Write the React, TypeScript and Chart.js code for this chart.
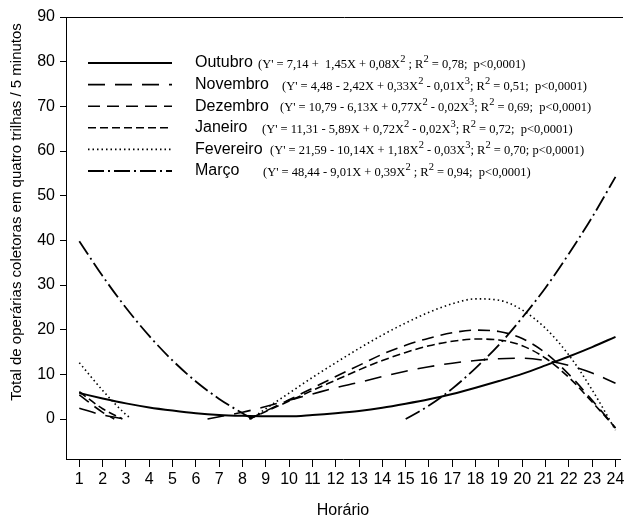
import React, { useEffect, useRef } from 'react';
import { Chart, registerables } from 'chart.js';

Chart.register(...registerables);

// ---------- data ----------
const hourTicks = [1, 2, 3, 4, 5, 6, 7, 8, 9, 10, 11, 12, 13, 14, 15, 16, 17, 18, 19, 20, 21, 22, 23, 24];
const yTicks = [0, 10, 20, 30, 40, 50, 60, 70, 80, 90];

const xTitle = 'Horário';
const yTitle = 'Total de operárias coletoras em quatro trilhas / 5 minutos';

const seriesNames = ['Outubro', 'Novembro', 'Dezembro', 'Janeiro', 'Fevereiro', 'Março'];
const seriesEquations = [
  "(Y' = 7,14 +  1,45X + 0,08X^2 ; R^2 = 0,78;  p<0,0001)",
  "(Y' = 4,48 - 2,42X + 0,33X^2 - 0,01X^3; R^2 = 0,51;  p<0,0001)",
  "(Y' = 10,79 - 6,13X + 0,77X^2 - 0,02X^3; R^2 = 0,69;  p<0,0001)",
  "(Y' = 11,31 - 5,89X + 0,72X^2 - 0,02X^3; R^2 = 0,72;  p<0,0001)",
  "(Y' = 21,59 - 10,14X + 1,18X^2 - 0,03X^3; R^2 = 0,70; p<0,0001)",
  "(Y' = 48,44 - 9,01X + 0,39X^2 ; R^2 = 0,94;  p<0,0001)",
];

// Outubro (solid)
const outX = [1, 2, 3, 4, 5, 6, 7, 8, 9, 10, 11, 12, 13, 14, 15, 16, 17, 18, 19, 20, 21, 22, 23, 24];
const outY = [5.8, 4.6, 3.5, 2.6, 1.9, 1.3, 0.9, 0.7, 0.6, 0.6, 0.9, 1.3, 1.8, 2.5, 3.4, 4.4, 5.6, 7.0, 8.5, 10.1, 12.0, 14.0, 16.1, 18.4];

// Novembro (long dash)
const novX = [1, 2, 2.95, 4, 6.5, 7, 8, 9, 10, 11, 12, 13, 14, 15, 16, 17, 18, 19, 20, 21, 22, 23, 24];
const novY = [2.4, 0.9, 0, null, 0, 0.5, 1.5, 2.8, 4.2, 5.6, 7.0, 8.2, 9.5, 10.7, 11.7, 12.5, 13.1, 13.5, 13.6, 13.1, 12.0, 10.3, 8.0];

// Dezembro (medium dash)
const dezX = [1, 2, 2.5, 5, 8.3, 9, 10, 11, 12, 13, 14, 15, 16, 17, 18, 19, 20, 21, 22, 23, 24];
const dezY = [5.4, 1.5, 0, null, 0, 1.8, 4.3, 6.9, 9.5, 12.0, 14.5, 16.5, 18.1, 19.3, 19.9, 19.6, 18.0, 14.8, 10.0, 4.2, -2.0];

// Janeiro (short dash)
const janX = [1, 2, 2.85, 5, 8.3, 9, 10, 11, 12, 13, 14, 15, 16, 17, 18, 19, 20, 21, 22, 23, 24];
const janY = [6.1, 2.3, 0, null, 0, 1.7, 4.0, 6.4, 8.7, 11.0, 13.1, 14.9, 16.4, 17.4, 17.9, 17.7, 16.4, 13.6, 9.3, 3.8, -2.0];

// Fevereiro (dotted)
const fevX = [1, 2, 3, 3.2, 5, 8.35, 9, 10, 11, 12, 13, 14, 15, 16, 17, 18, 19, 20, 21, 22, 23, 24];
const fevY = [12.6, 6.4, 1.0, 0.2, null, 0, 2.3, 5.8, 9.3, 12.6, 15.8, 18.8, 21.5, 23.9, 25.8, 26.9, 26.6, 24.4, 20.3, 14.3, 6.5, -2.5];

// Março (dash-dot)
const marX = [1, 2, 3, 4, 5, 6, 7, 8, 8.45, 12, 15, 16, 17, 18, 19, 20, 21, 22, 23, 24];
const marY = [39.8, 32.0, 24.9, 18.6, 13.1, 8.4, 4.5, 1.3, 0, null, 0, 3.0, 6.8, 11.4, 16.6, 22.7, 29.4, 37.0, 45.2, 54.2];

const seriesX = [outX, novX, dezX, janX, fevX, marX];
const seriesY = [outY, novY, dezY, janY, fevY, marY];

// ---------- styles ----------
const SANS = "'Liberation Sans', Arial, sans-serif";
const SERIF = "'Liberation Serif', 'Times New Roman', serif";
const dashes: number[][] = [[], [17, 10], [12, 7], [8, 4], [1.5, 3], [16, 4, 2, 4]];
const widths = [2, 1.6, 1.6, 1.6, 1.6, 1.8];
const eqX = [258, 282, 280, 262, 270, 263];

function drawEquation(ctx: CanvasRenderingContext2D, text: string, x: number, y: number) {
  let cx = x;
  let i = 0;
  while (i < text.length) {
    if (text[i] === '^') {
      const s = text[i + 1];
      ctx.font = `10.5px ${SERIF}`;
      ctx.fillText(s, cx, y - 6);
      cx += ctx.measureText(s).width;
      i += 2;
    } else {
      let j = i;
      while (j < text.length && text[j] !== '^') j++;
      const chunk = text.slice(i, j);
      ctx.font = `12.5px ${SERIF}`;
      ctx.fillText(chunk, cx, y);
      cx += ctx.measureText(chunk).width;
      i = j;
    }
  }
}

const overlayPlugin = {
  id: 'overlay',
  afterDraw(chart: any) {
    const ctx: CanvasRenderingContext2D = chart.ctx;
    const area = chart.chartArea;
    ctx.save();
    ctx.strokeStyle = '#000';
    ctx.lineWidth = 1;
    ctx.setLineDash([]);
    ctx.beginPath();
    ctx.moveTo(area.left, Math.round(area.top) + 0.5);
    ctx.lineTo(623, Math.round(area.top) + 0.5);
    ctx.stroke();

    // y title
    ctx.save();
    ctx.translate(17, 212);
    ctx.rotate(-Math.PI / 2);
    ctx.font = `15px ${SANS}`;
    ctx.fillStyle = '#000';
    ctx.textAlign = 'center';
    ctx.textBaseline = 'middle';
    ctx.fillText(yTitle, 0, 0);
    ctx.restore();

    // legend
    const top = 63;
    const gap = 21.6;
    for (let i = 0; i < seriesNames.length; i++) {
      const y = top + i * gap;
      ctx.strokeStyle = '#000';
      ctx.lineWidth = widths[i];
      ctx.setLineDash(dashes[i]);
      ctx.beginPath();
      ctx.moveTo(88, y);
      ctx.lineTo(172, y);
      ctx.stroke();
      ctx.setLineDash([]);
      ctx.fillStyle = '#000';
      ctx.textAlign = 'left';
      ctx.textBaseline = 'middle';
      ctx.font = `16px ${SANS}`;
      ctx.fillText(seriesNames[i], 195, y);
      ctx.textBaseline = 'alphabetic';
      drawEquation(ctx, seriesEquations[i], eqX[i], y + 5);
    }
    ctx.restore();
  },
};

export default function App() {
  const ref = useRef<HTMLCanvasElement>(null);
  useEffect(() => {
    if (!ref.current) return;
    const datasets = seriesNames.map((name, i) => ({
      label: name,
      data: seriesX[i].map((x, k) => ({ x, y: seriesY[i][k] })),
      borderColor: '#000',
      borderWidth: widths[i],
      borderDash: dashes[i],
      pointRadius: 0,
      fill: false,
      tension: 0.4,
      cubicInterpolationMode: 'monotone' as const,
      spanGaps: false,
    }));
    const chart = new Chart(ref.current, {
      type: 'line',
      data: { datasets },
      options: {
        responsive: false,
        animation: false,
        layout: { padding: { left: 0, right: 4, top: 17, bottom: 0 } },
        plugins: { legend: { display: false }, tooltip: { enabled: false } },
        scales: {
          x: {
            type: 'linear',
            min: 0.4294,
            max: 24.193,
            afterBuildTicks: (s: any) => {
              s.ticks = hourTicks.map((v) => ({ value: v }));
            },
            afterFit: (s: any) => {
              s.height = 62;
              s.paddingLeft = 0;
              s.paddingRight = 0;
            },
            grid: { drawOnChartArea: false, drawTicks: true, tickLength: 8, color: '#000', lineWidth: 1 },
            border: { display: true, color: '#000', width: 1 },
            ticks: {
              color: '#000',
              font: { family: SANS, size: 16 },
              padding: 3,
              maxRotation: 0,
              autoSkip: false,
              callback: (v: any) => String(v),
            },
            title: {
              display: true,
              text: xTitle,
              color: '#000',
              font: { family: SANS, size: 16 },
              padding: { top: 0, bottom: 1 },
            },
          },
          y: {
            type: 'linear',
            min: -8.955,
            max: 90,
            afterBuildTicks: (s: any) => {
              s.ticks = yTicks.map((v) => ({ value: v }));
            },
            afterFit: (s: any) => {
              s.width = 66;
              s.paddingTop = 0;
              s.paddingBottom = 0;
            },
            grid: { drawOnChartArea: false, drawTicks: true, tickLength: 6, color: '#000', lineWidth: 1 },
            border: { display: true, color: '#000', width: 1 },
            ticks: {
              color: '#000',
              font: { family: SANS, size: 16 },
              padding: 5,
              callback: (v: any) => String(v),
            },
          },
        },
      },
      plugins: [overlayPlugin],
    });
    return () => chart.destroy();
  }, []);
  return (
    <div style={{ position: 'fixed', left: 0, top: 0, width: 624, height: 521, background: '#fff' }}>
      <canvas ref={ref} width={624} height={521} style={{ display: 'block', width: 624, height: 521 }} />
    </div>
  );
}
